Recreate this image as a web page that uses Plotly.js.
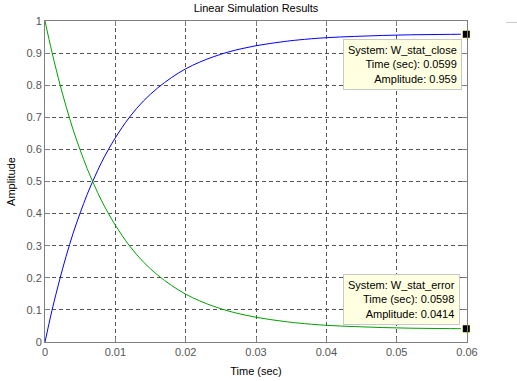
<!DOCTYPE html>
<html>
<head>
<meta charset="utf-8">
<script src="https://cdn.plot.ly/plotly-3.0.1.min.js"></script>
<style>html,body{margin:0;padding:0;background:#fff;}#chart{width:517px;height:381px;}</style>
</head>
<body>
<div id="chart"></div>
<script>
var timeSec = [0, 0.001, 0.002, 0.003, 0.004, 0.005, 0.006, 0.007, 0.008, 0.009, 0.010, 0.012, 0.014, 0.016, 0.018, 0.020, 0.022, 0.024, 0.026, 0.028, 0.030, 0.032, 0.034, 0.036, 0.040, 0.044, 0.048, 0.052, 0.056, 0.0599];
var wStatClose = [0, 0.099, 0.187, 0.267, 0.339, 0.402, 0.460, 0.511, 0.558, 0.599, 0.636, 0.700, 0.751, 0.791, 0.824, 0.851, 0.872, 0.889, 0.903, 0.914, 0.923, 0.930, 0.936, 0.941, 0.948, 0.952, 0.955, 0.957, 0.958, 0.959];
var wStatError = [1, 0.902, 0.813, 0.734, 0.661, 0.598, 0.540, 0.489, 0.442, 0.401, 0.364, 0.300, 0.249, 0.209, 0.176, 0.149, 0.128, 0.111, 0.097, 0.086, 0.077, 0.070, 0.064, 0.059, 0.052, 0.048, 0.045, 0.043, 0.042, 0.0414];
var xTicks = [0, 0.01, 0.02, 0.03, 0.04, 0.05, 0.06];
var xTickLabels = ['0', '0.01', '0.02', '0.03', '0.04', '0.05', '0.06'];
var yTicks = [0, 0.1, 0.2, 0.3, 0.4, 0.5, 0.6, 0.7, 0.8, 0.9, 1];
var yTickLabels = ['0', '0.1', '0.2', '0.3', '0.4', '0.5', '0.6', '0.7', '0.8', '0.9', '1'];
var tipClose = {name: 'W_stat_close', t: '0.0599', amp: '0.959'};
var tipError = {name: 'W_stat_error', t: '0.0598', amp: '0.0414'};

var n = timeSec.length - 1;
var font = 'Liberation Sans, Arial, sans-serif';
var traces = [
  {x: timeSec, y: wStatClose, mode: 'lines', line: {color: '#0000ff', width: 1, shape: 'spline'}, hoverinfo: 'skip'},
  {x: timeSec, y: wStatError, mode: 'lines', line: {color: '#00a000', width: 1, shape: 'spline'}, hoverinfo: 'skip'},
  {x: [timeSec[n], timeSec[n]], y: [wStatClose[n], wStatError[n]], mode: 'markers', cliponaxis: false,
   marker: {symbol: 'square', size: 9, color: '#000000', line: {color: '#ffffe1', width: 2}}, hoverinfo: 'skip'}
];
var axisCommon = {
  showline: true, linecolor: '#7f7f7f', linewidth: 1, mirror: 'ticks',
  ticks: 'inside', ticklen: 5, tickcolor: '#7f7f7f', tickwidth: 1,
  showgrid: true, gridcolor: '#555555', griddash: '4px,3px', gridwidth: 1,
  zeroline: false, tickfont: {family: font, size: 11, color: '#555555'}
};
var layout = {
  width: 517, height: 381,
  margin: {l: 45, r: 50, t: 21, b: 39, pad: 0},
  paper_bgcolor: '#ffffff', plot_bgcolor: '#ffffff',
  showlegend: false,
  title: {text: 'Linear Simulation Results', font: {family: font, size: 11, color: '#000000'}, x: 0.5, xanchor: 'center', y: 0.978, yanchor: 'middle', xref: 'paper'},
  xaxis: Object.assign({}, axisCommon, {range: [0, 0.06], tickvals: xTicks, ticktext: xTickLabels,
    title: {text: 'Time (sec)', font: {family: font, size: 11, color: '#000000'}, standoff: 10}}),
  yaxis: Object.assign({}, axisCommon, {range: [0, 1], tickvals: yTicks, ticktext: yTickLabels,
    title: {text: 'Amplitude', font: {family: font, size: 11, color: '#000000'}, standoff: 8}}),
  annotations: [
    {x: timeSec[n], y: wStatClose[n], xref: 'x', yref: 'y', showarrow: false,
     xanchor: 'right', yanchor: 'top', xshift: -4, yshift: -5, align: 'right',
     text: 'System: ' + tipClose.name + '<br>Time (sec): ' + tipClose.t + '<br>Amplitude: ' + tipClose.amp,
     font: {family: font, size: 11, color: '#000000'}, bgcolor: '#ffffe1', bordercolor: '#c8c8c8', borderwidth: 1, borderpad: 4},
    {x: timeSec[n], y: wStatError[n], xref: 'x', yref: 'y', showarrow: false,
     xanchor: 'right', yanchor: 'bottom', xshift: -6, yshift: 4, align: 'right',
     text: 'System: ' + tipError.name + '<br>Time (sec): ' + tipError.t + '<br>Amplitude: ' + tipError.amp,
     font: {family: font, size: 11, color: '#000000'}, bgcolor: '#ffffe1', bordercolor: '#c8c8c8', borderwidth: 1, borderpad: 4}
  ],
  shapes: [
    {type: 'line', xref: 'paper', yref: 'paper', x0: 1.0925, x1: 1.12, y0: 0.9955, y1: 0.9955, line: {color: '#c8c8c8', width: 1}}
  ]
};
Plotly.newPlot('chart', traces, layout, {staticPlot: true, displayModeBar: false});
</script>
</body>
</html>
